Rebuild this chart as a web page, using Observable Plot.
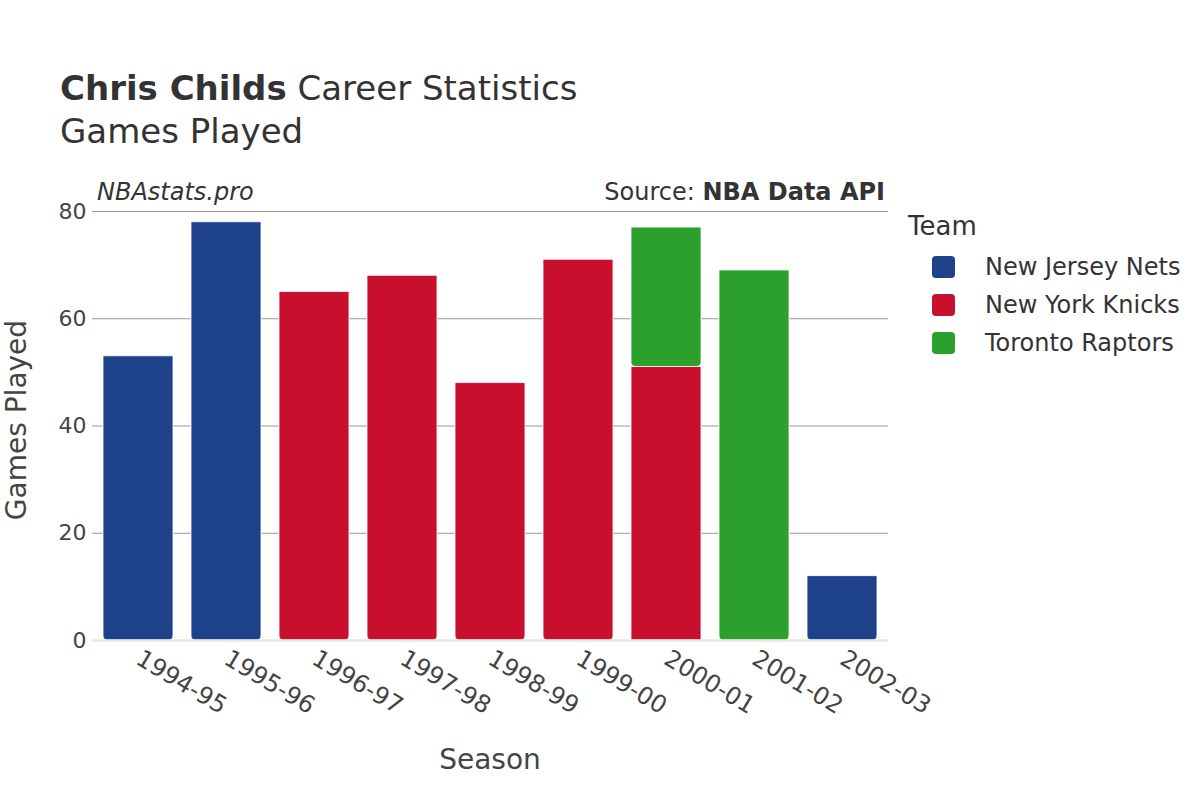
<!DOCTYPE html>
<html>
<head>
<meta charset="utf-8">
<script src="https://cdn.jsdelivr.net/npm/d3@7"></script>
<script src="https://cdn.jsdelivr.net/npm/@observablehq/plot@0.6"></script>
<style>
  body { margin: 0; background: #fff; font-family: "DejaVu Sans", sans-serif; color: #333; }
  #wrap { position: relative; width: 1200px; height: 800px; overflow: hidden; }
  #wrap svg { position: absolute; left: 0; top: 0; }
  .abs { position: absolute; white-space: nowrap; line-height: 1; }
  .sw { position: absolute; width: 23px; height: 22px; border-radius: 4px; }
</style>
</head>
<body>
<div id="wrap">
  <div id="chart"></div>
  <div class="abs" style="left:60px; top:71px; font-size:34px; color:#333;"><b>Chris Childs</b> Career Statistics</div>
  <div class="abs" style="left:60px; top:114px; font-size:34px; color:#333;">Games Played</div>
  <div class="abs" style="left:97px; top:180px; font-size:24px; font-style:italic; color:#333;">NBAstats.pro</div>
  <div class="abs" style="right:315px; top:180px; font-size:24px; color:#333;">Source: <b>NBA Data API</b></div>
  <div class="abs" style="left:17px; top:420px; font-size:28px; color:#444; transform: translate(-50%,-50%) rotate(-90deg);">Games Played</div>
  <div class="abs" style="left:490px; top:760px; font-size:28px; color:#444; transform: translate(-50%,-50%);">Season</div>
  <div id="legend"></div>
</div>
<script>
const seasons = ["1994-95", "1995-96", "1996-97", "1997-98", "1998-99", "1999-00", "2000-01", "2001-02", "2002-03"];
const teams = ["New Jersey Nets", "New York Knicks", "Toronto Raptors"];
const teamColors = ["#1d428a", "#c8102e", "#2ca02c"];
const rowSeason = ["1994-95", "1995-96", "1996-97", "1997-98", "1998-99", "1999-00", "2000-01", "2000-01", "2001-02", "2002-03"];
const rowTeam = ["New Jersey Nets", "New Jersey Nets", "New York Knicks", "New York Knicks", "New York Knicks", "New York Knicks", "New York Knicks", "Toronto Raptors", "Toronto Raptors", "New Jersey Nets"];
const rowGames = [53, 78, 65, 68, 48, 71, 51, 26, 69, 12];
const yTicks = [0, 20, 40, 60, 80];

const data = rowSeason.map((s, i) => ({
  season: s, team: rowTeam[i], games: rowGames[i],
  top: rowSeason.lastIndexOf(s) === i ? 0 : 1
}));

const chart = Plot.plot({
  width: 1200, height: 800,
  marginLeft: 92, marginRight: 312, marginTop: 211, marginBottom: 160,
  style: { fontFamily: "DejaVu Sans, sans-serif", fontSize: "20px", color: "#444", background: "transparent" },
  x: { domain: seasons, paddingInner: 0.2, paddingOuter: 0.1, label: null },
  y: { domain: [0, 80], label: null },
  color: { domain: teams, range: teamColors },
  opacity: { domain: [0, 1], range: [0, 1] },
  marks: [
    Plot.gridY(yTicks.filter(d => d > 0), { stroke: "#999", strokeOpacity: 1, strokeWidth: 1 }),
    Plot.barY(data, { x: "season", y: "games", fill: "team", ry2: 4, stroke: "white", strokeWidth: 0.8 }),
    Plot.barY(data, { x: "season", y: "games", fill: "team", fillOpacity: "top", stroke: "white", strokeWidth: 0.8, strokeOpacity: "top" }),
    Plot.ruleY([0], { stroke: "#e6e6e6", strokeWidth: 2.5 }),
    Plot.axisY({ ticks: yTicks, tickSize: 0, tickPadding: 6, fontSize: 22, label: null }),
    Plot.axisX({ tickSize: 0, tickPadding: 16, tickRotate: 31, fontSize: 24, label: null })
  ]
});
document.getElementById("chart").appendChild(chart);

const legend = document.getElementById("legend");
const title = document.createElement("div");
title.className = "abs";
title.style.cssText = "left:908px; top:213px; font-size:26px; color:#333;";
title.textContent = "Team";
legend.appendChild(title);
teams.forEach((t, i) => {
  const cy = 267 + i * 38;
  const sw = document.createElement("div");
  sw.className = "sw";
  sw.style.cssText = `left:932px; top:${cy - 11}px; background:${teamColors[i]};`;
  legend.appendChild(sw);
  const lab = document.createElement("div");
  lab.className = "abs";
  lab.style.cssText = `left:985px; top:${cy - 12}px; font-size:24px; color:#333;`;
  lab.textContent = t;
  legend.appendChild(lab);
});
</script>
</body>
</html>
